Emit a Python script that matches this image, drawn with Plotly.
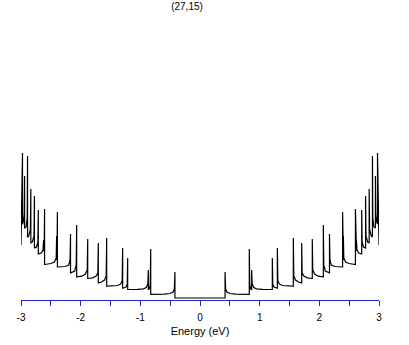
import plotly.graph_objects as go

# Density of states of a (27,15) nanotube, positive-energy half
# (the curve is symmetric about E = 0)
energy_right = [
    0.00, 0.42, 0.42, 0.43, 0.45, 0.50, 0.60, 0.82,
    0.826, 0.826, 0.834, 0.85, 0.862,
    0.866, 0.866, 0.875, 0.90, 0.95, 1.05, 1.21,
    1.212, 1.212, 1.22, 1.24, 1.29,
    1.296, 1.296, 1.305, 1.33, 1.38, 1.56,
    1.564, 1.564, 1.572, 1.60, 1.65, 1.70,
    1.704, 1.704, 1.712, 1.74, 1.80, 1.878,
    1.882, 1.882, 1.89, 1.92, 1.98, 2.064,
    2.067, 2.067, 2.075, 2.10, 2.165,
    2.17, 2.17, 2.178, 2.20, 2.26, 2.385,
    2.39, 2.39, 2.396, 2.403, 2.403, 2.41, 2.44, 2.50, 2.60,
    2.605, 2.605, 2.611, 2.622, 2.622, 2.63, 2.66, 2.705,
    2.71, 2.71, 2.717, 2.74, 2.77,
    2.775, 2.775, 2.782, 2.81, 2.83,
    2.835, 2.835, 2.842, 2.87, 2.885,
    2.89, 2.89, 2.896, 2.915, 2.935,
    2.94, 2.94, 2.946, 2.962, 2.972,
    2.975, 2.975, 2.983, 2.993, 3.00,
]
dos_right = [
    0.02, 0.02, 0.28, 0.11, 0.08, 0.065, 0.058, 0.056,
    0.056, 0.51, 0.15, 0.11, 0.105,
    0.105, 0.30, 0.16, 0.125, 0.112, 0.107, 0.105,
    0.105, 0.42, 0.16, 0.13, 0.118,
    0.118, 0.52, 0.19, 0.16, 0.145, 0.138,
    0.138, 0.62, 0.24, 0.20, 0.18, 0.172,
    0.172, 0.57, 0.27, 0.24, 0.222, 0.215,
    0.215, 0.61, 0.30, 0.26, 0.238, 0.232,
    0.232, 0.75, 0.35, 0.29, 0.272,
    0.272, 0.66, 0.40, 0.35, 0.335, 0.33,
    0.33, 0.88, 0.45, 0.40, 0.64, 0.42, 0.38, 0.365, 0.355,
    0.355, 0.91, 0.52, 0.49, 0.60, 0.50, 0.47, 0.46,
    0.46, 0.90, 0.58, 0.53, 0.52,
    0.52, 1.04, 0.64, 0.58, 0.57,
    0.57, 1.11, 0.71, 0.64, 0.63,
    0.63, 1.44, 0.82, 0.73, 0.72,
    0.72, 1.24, 0.86, 0.78, 0.76,
    0.76, 1.47, 0.92, 0.84, 0.55,
]

energy = [-e for e in reversed(energy_right)] + energy_right
dos = list(reversed(dos_right)) + dos_right

tick_vals = [-3, -2.5, -2, -1.5, -1, -0.5, 0, 0.5, 1, 1.5, 2, 2.5, 3]
tick_text = ["-3", "", "-2", "", "-1", "", "0", "", "1", "", "2", "", "3"]

title_text = "(27,15)"
x_title = "Energy (eV)"

axis_blue = "#2424c4"
font_family = "Liberation Sans, Arial, sans-serif"

fig = go.Figure()
fig.add_trace(go.Scatter(
    x=energy, y=dos, mode="lines",
    line=dict(color="black", width=1.2),
    hoverinfo="skip",
))

fig.update_layout(
    width=409, height=345,
    margin=dict(l=21, r=30, t=30, b=45, autoexpand=False),
    paper_bgcolor="white", plot_bgcolor="white",
    showlegend=False,
    font=dict(family=font_family, size=10, color="black"),
    title=dict(
        text=title_text, x=187 / 409, xanchor="center", xref="container",
        y=1 - 6 / 345, yanchor="middle", yref="container",
        font=dict(family=font_family, size=10, color="black"),
        automargin=False,
    ),
)
fig.update_xaxes(
    range=[-3, 3], showgrid=False, zeroline=False, automargin=False,
    showline=True, linecolor=axis_blue, linewidth=1,
    ticks="outside", ticklen=5, tickwidth=1, tickcolor=axis_blue,
    tickvals=tick_vals, ticktext=tick_text, ticklabelstandoff=3,
    tickfont=dict(family=font_family, size=10, color="black"),
    title=dict(text=x_title, font=dict(family=font_family, size=11, color="black"), standoff=5),
)
fig.update_yaxes(visible=False, range=[0, 2.7], automargin=False)

fig.write_html(
    "out.html",
    config={"displayModeBar": False},
    post_script="document.body.style.margin='0';document.body.style.overflow='hidden';",
)
